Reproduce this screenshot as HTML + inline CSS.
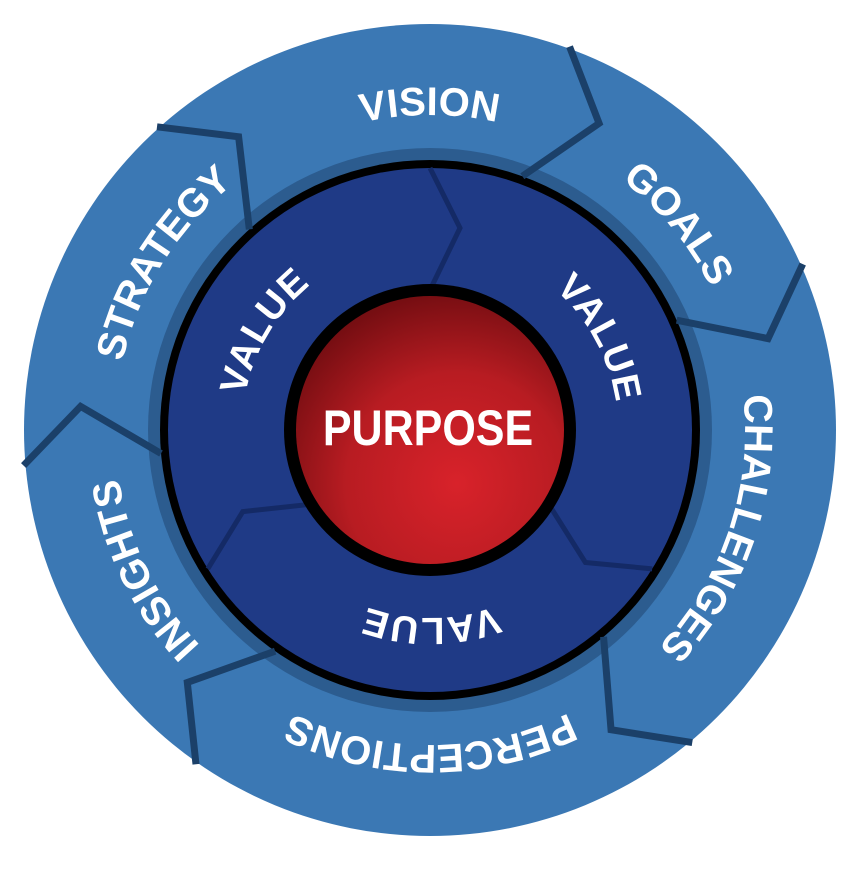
<!DOCTYPE html>
<html><head><meta charset="utf-8"><style>
html,body{margin:0;padding:0;background:#fff;}
svg{display:block;}
text{font-family:"Liberation Sans",sans-serif;font-weight:bold;fill:#fff;}
</style></head><body>
<svg width="864" height="869" viewBox="0 0 864 869" xmlns="http://www.w3.org/2000/svg">
<defs>
<radialGradient id="red" cx="0.6" cy="0.7" r="0.75">
<stop offset="0" stop-color="#d8222a"/>
<stop offset="0.55" stop-color="#b81c22"/>
<stop offset="1" stop-color="#6e0c10"/>
</radialGradient>
<path id="outerP" d="M430,102 A328,328 0 1 1 430,758 A328,328 0 1 1 430,102 A328,328 0 1 1 430,758 A328,328 0 1 1 430,102"/>
<path id="innerP" d="M430,230 A200,200 0 1 1 430,630 A200,200 0 1 1 430,230 A200,200 0 1 1 430,630 A200,200 0 1 1 430,230"/>
<polyline id="ch" points="430,22 484,84 430,160"/>
<polyline id="ich" points="430,168 460,228 430,290"/>
</defs>
<circle cx="430" cy="430" r="406" fill="#3b78b4"/>
<circle cx="430" cy="430" r="282" fill="#2c5c8f"/>
<circle cx="430" cy="430" r="270" fill="#000"/>
<circle cx="430" cy="430" r="262" fill="#1f3a86"/>
<g fill="none" stroke="#1b4069" stroke-width="7" stroke-linejoin="miter">
<use href="#ch" transform="rotate(20 430 430)"/>
<use href="#ch" transform="rotate(66 430 430)"/>
<use href="#ch" transform="rotate(140 430 430)"/>
<use href="#ch" transform="rotate(215 430 430)"/>
<use href="#ch" transform="rotate(265 430 430)"/>
<use href="#ch" transform="rotate(318 430 430)"/>
</g>
<g fill="none" stroke="#142a66" stroke-width="5">
<use href="#ich"/>
<use href="#ich" transform="rotate(122 430 430)"/>
<use href="#ich" transform="rotate(238 430 430)"/>
</g>
<circle cx="430" cy="430" r="146" fill="#000"/>
<circle cx="430" cy="430" r="134" fill="url(#red)"/>
<text x="0" y="0" font-size="50" text-anchor="middle" transform="translate(428 445) scale(0.86 1)">PURPOSE</text>
<g font-size="40" letter-spacing="1">
<text><textPath href="#outerP" startOffset="50%" text-anchor="middle" dominant-baseline="central">VISION</textPath></text>
<text><textPath href="#outerP" startOffset="57%" text-anchor="middle" dominant-baseline="central">GOALS</textPath></text>
<text><textPath href="#outerP" startOffset="65.1%" text-anchor="middle" dominant-baseline="central">CHALLENGES</textPath></text>
<text><textPath href="#outerP" startOffset="75%" text-anchor="middle" dominant-baseline="central">PERCEPTIONS</textPath></text>
<text><textPath href="#outerP" startOffset="83.9%" text-anchor="middle" dominant-baseline="central">INSIGHTS</textPath></text>
<text><textPath href="#outerP" startOffset="91.95%" text-anchor="middle" dominant-baseline="central">STRATEGY</textPath></text>
</g>
<g font-size="38" letter-spacing="3">
<text><textPath href="#innerP" startOffset="58.6%" text-anchor="middle" dominant-baseline="central">VALUE</textPath></text>
<text><textPath href="#innerP" startOffset="75%" text-anchor="middle" dominant-baseline="central">VALUE</textPath></text>
<text><textPath href="#innerP" startOffset="91.8%" text-anchor="middle" dominant-baseline="central">VALUE</textPath></text>
</g>
</svg>
</body></html>
